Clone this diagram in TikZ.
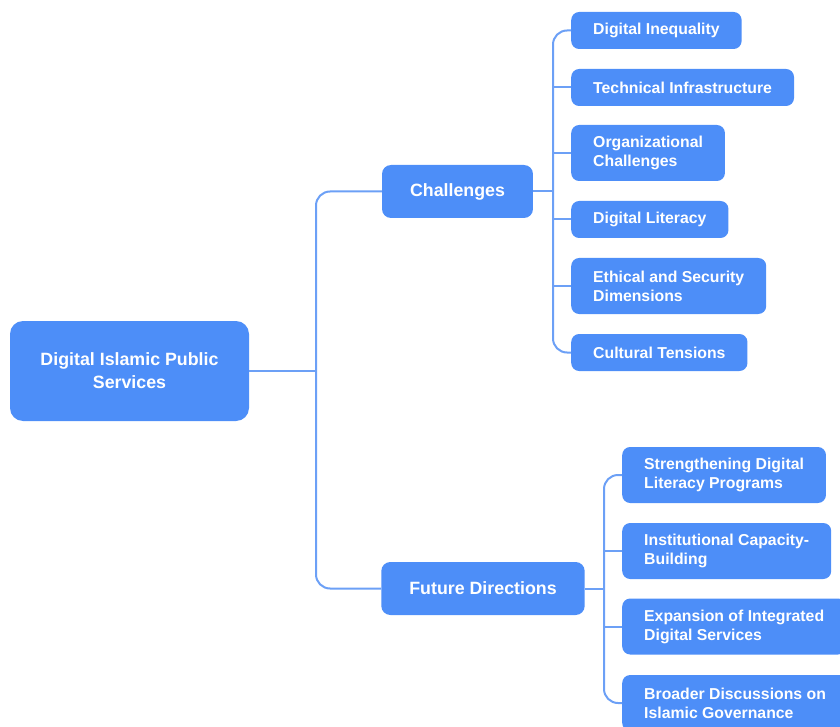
\documentclass[tikz,border=0pt]{standalone}
\usepackage{fontspec}
\setmainfont{Liberation Sans}
\usepackage{xcolor}
\definecolor{boxblue}{HTML}{4D8EF8}
\definecolor{lineblue}{HTML}{6CA0F6}

\tikzset{
	topic/.style={draw=none, fill=boxblue, text=white, font=\bfseries\fontsize{17.8}{23}\selectfont, align=center, rounded corners=13pt},
	leaf/.style={draw=none, fill=boxblue, text=white, font=\bfseries\fontsize{15.8}{19}\selectfont, align=left, anchor=west, inner xsep=22pt, inner ysep=2pt, rounded corners=8pt},
	one/.style={leaf, minimum height=37pt},
	two/.style={leaf, minimum height=56pt},
	link/.style={draw=lineblue, line width=2pt, rounded corners=14pt}
}

\begin{document}
\begin{tikzpicture}[x=1pt,y=-1pt]
	\newcommand\lvlB{571}
	\newcommand\lvlC{622}

	\useasboundingbox (0,0) rectangle (840,727);

	% main topics
	\node[topic, minimum width=239pt, minimum height=100pt] (root) at (129.5,371) {Digital Islamic Public\\Services};
	\node[topic, minimum height=53pt, inner xsep=28pt, rounded corners=9pt] (chal) at (457.5,191.5) {Challenges};
	\node[topic, minimum height=53pt, inner xsep=28pt, rounded corners=9pt] (fut) at (483,588.5) {Future Directions};

	% challenges
	\node[one] (c1) at (\lvlB,30.5) {Digital Inequality};
	\node[one] (c2) at (\lvlB,87.5) {Technical Infrastructure};
	\node[two] (c3) at (\lvlB,153) {Organizational\\Challenges};
	\node[one] (c4) at (\lvlB,219.5) {Digital Literacy};
	\node[two] (c5) at (\lvlB,286) {Ethical and Security\\Dimensions};
	\node[one] (c6) at (\lvlB,352.5) {Cultural Tensions};

	% future directions
	\node[two] (f1) at (\lvlC,475) {Strengthening Digital\\Literacy Programs};
	\node[two] (f2) at (\lvlC,551) {Institutional Capacity-\\Building};
	\node[two] (f3) at (\lvlC,626.5) {Expansion of Integrated\\Digital Services};
	\node[two] (f4) at (\lvlC,703) {Broader Discussions on\\Islamic Governance};

	% connectors
	\coordinate (rj) at (316,371);
	\coordinate (cj) at (553,191.5);
	\coordinate (fj) at (604,588.5);

	\draw[link] (root.east) -- (rj);
	\draw[link] (chal.west) -| (rj) |- (fut.west);

	\draw[link] (chal.east) -- (cj);
	\draw[link] (c1.west) -| (cj) |- (c6.west);
	\foreach \n in {c2,c3,c4,c5}
		\draw[link] (cj |- \n.west) -- (\n.west);

	\draw[link] (fut.east) -- (fj);
	\draw[link] (f1.west) -| (fj) |- (f4.west);
	\foreach \n in {f2,f3}
		\draw[link] (fj |- \n.west) -- (\n.west);
\end{tikzpicture}
\end{document}
